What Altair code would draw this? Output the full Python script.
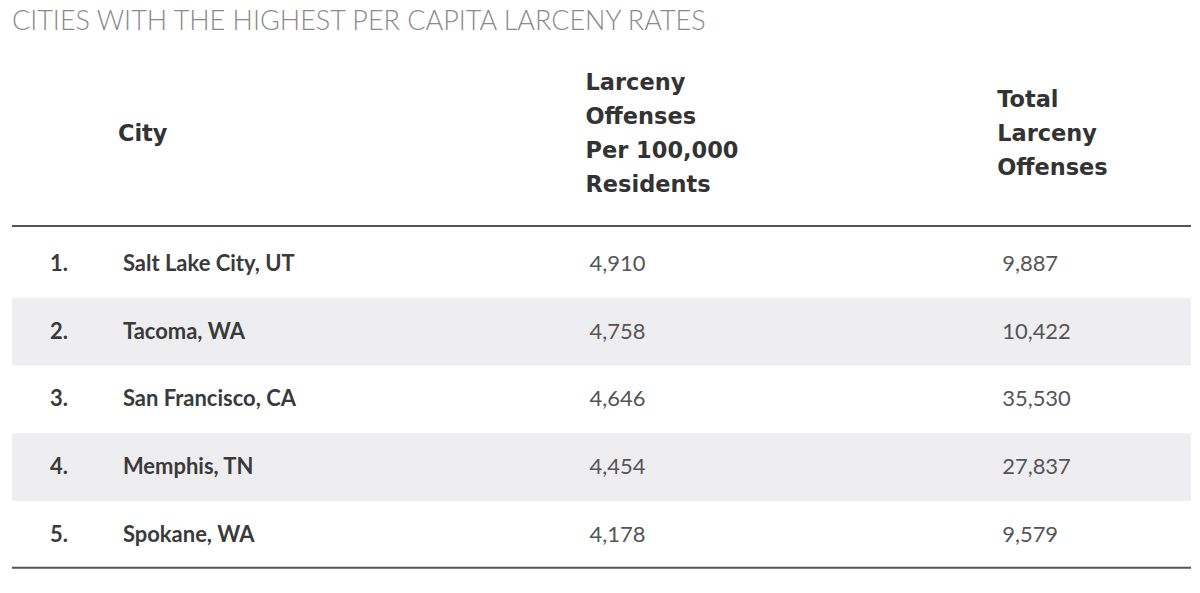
import altair as alt
import pandas as pd

title_text = "CITIES WITH THE HIGHEST PER CAPITA LARCENY RATES"
ranks = ["1.", "2.", "3.", "4.", "5."]
cities = ["Salt Lake City, UT", "Tacoma, WA", "San Francisco, CA", "Memphis, TN", "Spokane, WA"]
rates = [4910, 4758, 4646, 4454, 4178]
totals = [9887, 10422, 35530, 27837, 9579]
header_city = ["City"]
header_rate = ["Larceny", "Offenses", "Per 100,000", "Residents"]
header_total = ["Total", "Larceny", "Offenses"]

df = pd.DataFrame({
    "row": list(range(1, len(cities) + 1)),
    "rank": ranks,
    "city": cities,
    "rate": rates,
    "total": totals,
})

T = 30  # space taken by the title above the plot area
W, H = 1184, 577 - T
LH = 34
yscale = alt.Scale(domain=[1, 5], range=[255 - T, 526 - T], nice=False, zero=False)
one = alt.InlineData(values=[{"k": 1}])

base = alt.Chart(df)

shade = base.transform_filter("datum.row % 2 == 0").transform_calculate(
    y0="datum.row - 0.5", y1="datum.row + 0.5"
).mark_rect(color="#eeeef1").encode(
    y=alt.Y("y0:Q", scale=yscale, axis=None),
    y2="y1:Q",
    x=alt.value(4),
    x2=alt.value(W),
)

row_font = "Lato"
RFS = 22
rank_t = base.mark_text(align="left", baseline="middle", font=row_font, fontSize=RFS,
                        fontWeight="bold", color="#3a3a3a").encode(
    x=alt.value(42), y=alt.Y("row:Q", scale=yscale, axis=None), text="rank:N")
city_t = base.mark_text(align="left", baseline="middle", font=row_font, fontSize=RFS,
                        fontWeight="bold", color="#3a3a3a").encode(
    x=alt.value(115), y=alt.Y("row:Q", scale=yscale, axis=None), text="city:N")
rate_t = base.mark_text(align="left", baseline="middle", font=row_font, fontSize=RFS,
                        color="#555555").encode(
    x=alt.value(582), y=alt.Y("row:Q", scale=yscale, axis=None),
    text=alt.Text("rate:Q", format=",d"))
total_t = base.mark_text(align="left", baseline="middle", font=row_font, fontSize=RFS,
                         color="#555555").encode(
    x=alt.value(995), y=alt.Y("row:Q", scale=yscale, axis=None),
    text=alt.Text("total:Q", format=",d"))

hfont = dict(align="left", baseline="middle", font="DejaVu Sans", fontSize=22.5,
             fontWeight="bold", color="#333333", lineHeight=LH)
HC = 125 - T  # vertical centre of the header block


def header(lines, x):
    return alt.Chart(one).mark_text(text=lines, **hfont).encode(
        x=alt.value(x), y=alt.value(HC - (len(lines) - 1) * LH / 2))


h1 = header(header_city, 110)
h2 = header(header_rate, 578)
h3 = header(header_total, 990)

rule_top = alt.Chart(one).mark_rule(color="#555555", strokeWidth=2).encode(
    x=alt.value(4), x2=alt.value(W), y=alt.value(217 - T))
rule_bot = alt.Chart(one).mark_rule(color="#555555", strokeWidth=2).encode(
    x=alt.value(4), x2=alt.value(W), y=alt.value(559 - T))

chart = alt.layer(shade, rule_top, rule_bot, h1, h2, h3, rank_t, city_t, rate_t, total_t).properties(
    width=W, height=H, padding=0,
    title=alt.Title(title_text, anchor="start", font="Lato", fontSize=27, fontWeight=300,
                    color="#8a8a8a", offset=3, dx=4),
).configure_view(stroke=None)

chart.save("out.html", embed_options={"renderer": "svg", "actions": False})
